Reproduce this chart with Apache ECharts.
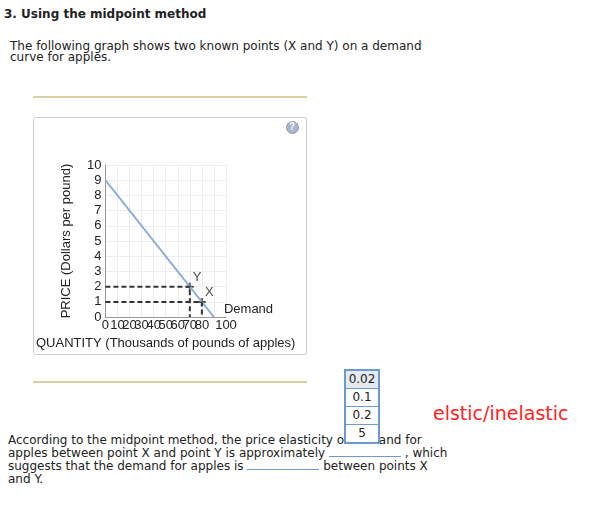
<!DOCTYPE html>
<html><head><meta charset="utf-8">
<script src="https://cdn.jsdelivr.net/npm/echarts@6/dist/echarts.min.js"></script>
<style>
body{margin:0;background:#fff;font-family:"DejaVu Sans",Verdana,sans-serif;font-size:12px;color:#222;position:relative;width:597px;height:509px;overflow:hidden}
.a{position:absolute;white-space:nowrap;line-height:11px}
.rule{position:absolute;height:2px;background:#d9cfa5}
#box{position:absolute;left:33px;top:117px;width:272px;height:236px;border:1px solid #ccc;border-radius:3px}
#chart{position:absolute;left:33px;top:117px;width:274px;height:238px}
.dd{position:absolute;left:344px;top:369px;width:32px;border:2px solid #6a9ad0;background:#fff}
.dd div{height:17px;line-height:17px;text-align:center;border-bottom:1px solid #6a9ad0;font-size:12px}
.dd div:last-child{border-bottom:none}
.blank{display:inline-block;width:72px;border-bottom:1px solid #6a9ad0}
</style></head><body>
<div class="a" style="left:4px;top:9px;font-weight:bold">3. Using the midpoint method</div>
<div class="a" style="left:10px;top:41px">The following graph shows two known points (X and Y) on a demand</div>
<div class="a" style="left:10px;top:52px">curve for apples.</div>
<div class="rule" style="left:33px;top:96px;width:274px"></div>
<div id="box"></div>
<div id="chart"></div>
<div class="rule" style="left:33px;top:381px;width:274px"></div>
<div class="a" style="left:8px;top:435px">According to the midpoint method, the price elasticity of demand for</div>
<div class="a" style="left:8px;top:448px">apples between point X and point Y is approximately <span class="blank"></span> , which</div>
<div class="a" style="left:8px;top:461px">suggests that the demand for apples is <span class="blank"></span> between points X</div>
<div class="a" style="left:8px;top:474px">and Y.</div>
<div class="dd"><div style="background:#e4eaf0">0.02</div><div>0.1</div><div>0.2</div><div>5</div></div>
<div class="a" style="left:433px;top:403px;color:#f22;font-size:19px;line-height:20px">elstic/inelastic</div>
<script>
var xTicks = [0, 10, 20, 30, 40, 50, 60, 70, 80, 90, 100];
var demandLine = [[0, 9], [90, 0]];
var pointX = [80, 1];
var pointY = [70, 2];

var chart = echarts.init(document.getElementById("chart"));

function guide(p) {
  return [[0, p[1]], [p[0], p[1]], [p[0], 0]];
}

var option = {
  animation: false,
  grid: { left: 33, top: 48, width: 160, height: 160 },
  xAxis: {
    type: "value", min: 0, max: 100, interval: 10,
    name: "QUANTITY (Thousands of pounds of apples)",
    nameLocation: "middle", nameGap: 13,
    nameTextStyle: { color: "#222", fontSize: 13, fontFamily: "Arial" },
    axisLine: { lineStyle: { color: "#999" } },
    axisTick: { show: false },
    axisLabel: { color: "#222", fontSize: 13, fontFamily: "Arial", margin: 2, hideOverlap: false, showMaxLabel: true, showMinLabel: true },
    splitLine: { lineStyle: { color: "#eee" } }
  },
  yAxis: {
    type: "value", min: 0, max: 10, interval: 1,
    name: "PRICE (Dollars per pound)",
    nameLocation: "middle", nameGap: 32,
    nameTextStyle: { color: "#222", fontSize: 13, fontFamily: "Arial" },
    axisLine: { show: true, lineStyle: { color: "#999" } },
    axisTick: { show: false },
    axisLabel: { color: "#222", fontSize: 13, fontFamily: "Arial", margin: 4 },
    splitLine: { lineStyle: { color: "#eee" } }
  },
  series: [
    {
      type: "line", data: demandLine, symbol: "none",
      lineStyle: { color: "#8fb0d6", width: 2 },
      endLabel: { show: true, formatter: "Demand", color: "#222", fontFamily: "Arial", fontSize: 13, offset: [2, -8] }
    },
    { type: "line", data: guide(pointY), symbol: "none", lineStyle: { color: "#333", type: [5, 3], width: 2 } },
    { type: "line", data: guide(pointX), symbol: "none", lineStyle: { color: "#333", type: [5, 3], width: 2 } },
    {
      type: "scatter", data: [pointY, pointX], symbol: "path://M-1,-4H1V-1H4V1H1V4H-1V1H-4V-1H-1Z", symbolSize: 8,
      itemStyle: { color: "#333" },
      label: {
        show: true, position: [7, -12], color: "#222", fontFamily: "Arial", fontSize: 13,
        formatter: function (p) { return p.dataIndex === 0 ? "Y" : "X"; }
      }
    }
  ],
  graphic: [
    { type: "circle", left: 253, top: 4, shape: { r: 6 }, style: { fill: "#aab6cc", stroke: "#8896b0" } },
    { type: "text", left: 256, top: 5, style: { text: "?", fill: "#fff", font: "bold 10px Arial" } }
  ]
};
chart.setOption(option);
</script>
</body></html>
